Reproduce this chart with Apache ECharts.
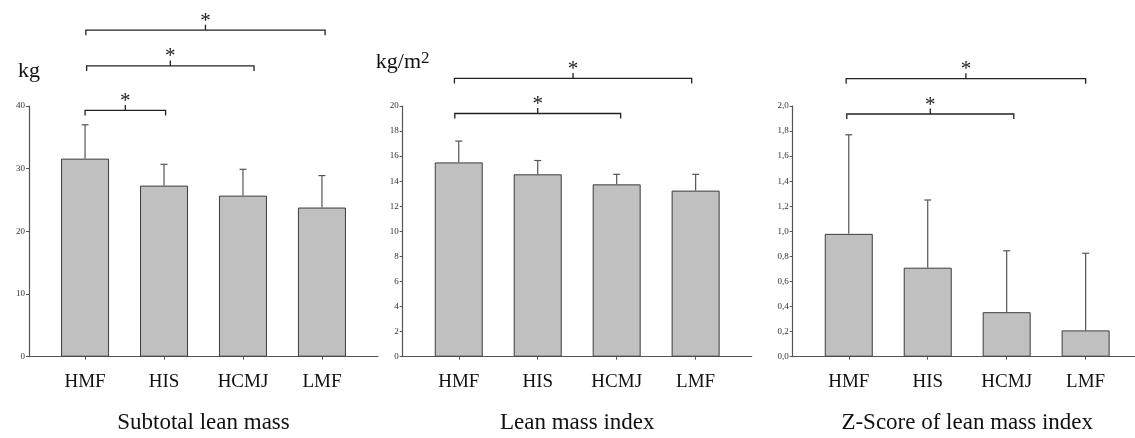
<!DOCTYPE html>
<html>
<head>
<meta charset="utf-8" />
<title>Lean mass</title>
<script src="https://cdn.jsdelivr.net/npm/echarts@6/dist/echarts.min.js"></script>
<style>
  html, body { margin: 0; padding: 0; background: #fff; }
  #main { width: 1135px; height: 438px; }
</style>
</head>
<body>
<div id="main"></div>
<script type="text/javascript">
// data
var categories = ['HMF', 'HIS', 'HCMJ', 'LMF'];

var leanMass = [31.6, 27.3, 25.7, 23.8];
var leanMassSd = [5.4, 3.4, 4.2, 5.1];

var leanIndex = [15.5, 14.55, 13.75, 13.25];
var leanIndexSd = [1.7, 1.1, 0.8, 1.3];

var zScore = [0.98, 0.71, 0.355, 0.21];
var zScoreSd = [0.79, 0.54, 0.49, 0.615];

// significance brackets: [from, to, height]
var leanMassSig = [[0, 1.02, 39.3], [0.02, 2.14, 46.4], [0.01, 3.04, 52.1]];
var leanIndexSig = [[-0.05, 2.05, 19.4], [-0.055, 2.95, 22.2]];
var zScoreSig = [[-0.025, 2.09, 1.936], [-0.033, 3.0, 2.218]];

var yTicks = [
  { max: 40, interval: 10 },
  { max: 20, interval: 2 },
  { max: 2, interval: 0.2 }
];

var serif = 'Liberation Serif';
var axisColor = '#555';
var gridLefts = [29, 402.7, 792.7];
var titles = ['Subtotal lean mass', 'Lean mass index', 'Z-Score of lean mass index'];

var chart = echarts.init(document.getElementById('main'), null, { renderer: 'canvas' });

function errorRender(params, api) {
  var i = api.value(0);
  var base = api.coord([i, api.value(1)]);
  var top = api.coord([i, api.value(1) + api.value(2)]);
  return {
    type: 'group',
    children: [
      { type: 'line', shape: { x1: base[0], y1: base[1], x2: top[0], y2: top[1] },
        style: { stroke: '#555', lineWidth: 1.2 } },
      { type: 'line', shape: { x1: top[0] - 3.5, y1: top[1], x2: top[0] + 3.5, y2: top[1] },
        style: { stroke: '#555', lineWidth: 1.2 } }
    ]
  };
}

function sigRender(params, api) {
  var a = api.coord([api.value(0), api.value(2)]);
  var b = api.coord([api.value(1), api.value(2)]);
  var mx = (a[0] + b[0]) / 2;
  var y = a[1];
  return {
    type: 'group',
    children: [
      { type: 'polyline', shape: { points: [[a[0], y + 5], [a[0], y], [b[0], y], [b[0], y + 5]] },
        style: { stroke: '#222', lineWidth: 1.3, fill: null } },
      { type: 'line', shape: { x1: mx, y1: y, x2: mx, y2: y - 5.5 },
        style: { stroke: '#222', lineWidth: 1.3 } },
      { type: 'text', x: mx, y: y + 1.5,
        style: { text: '*', fontFamily: serif, fontSize: 21, fill: '#222',
                 align: 'center', verticalAlign: 'bottom' } }
    ]
  };
}

var grids = [], xAxes = [], yAxes = [], series = [];
var means = [leanMass, leanIndex, zScore];
var sds = [leanMassSd, leanIndexSd, zScoreSd];
var sigs = [leanMassSig, leanIndexSig, zScoreSig];

for (var p = 0; p < 3; p++) {
  grids.push({ left: gridLefts[p], top: 106, width: 349, height: 250.7,
               containLabel: false, outerBoundsMode: 'none' });
  xAxes.push({
    gridIndex: p,
    type: 'value',
    min: -0.71,
    max: 3.71,
    name: titles[p],
    nameLocation: 'middle',
    nameGap: 55,
    nameTextStyle: { fontFamily: serif, fontSize: 23, color: '#111' },
    splitLine: { show: false },
    axisLine: { onZero: false, lineStyle: { color: axisColor, width: 1.2 } },
    axisTick: { customValues: [0, 1, 2, 3], length: 3, lineStyle: { color: axisColor } },
    axisLabel: {
      customValues: [0, 1, 2, 3],
      formatter: function (v) { return categories[Math.round(v)]; },
      fontFamily: serif, fontSize: 19, color: '#111', margin: 16
    }
  });
  yAxes.push({
    gridIndex: p,
    type: 'value',
    min: 0,
    max: yTicks[p].max,
    interval: yTicks[p].interval,
    splitLine: { show: false },
    axisLine: { show: true, onZero: false, lineStyle: { color: axisColor, width: 1.2 } },
    axisTick: { show: true, length: 3, lineStyle: { color: axisColor } },
    axisLabel: {
      fontFamily: serif, fontSize: 9, color: '#333', margin: 4,
      formatter: p === 2 ? function (v) { return v.toFixed(1).replace('.', ','); } : null
    }
  });

  series.push({
    type: 'bar',
    xAxisIndex: p, yAxisIndex: p,
    barWidth: 48,
    itemStyle: { color: '#c0c0c0', borderColor: '#3c3c3c', borderWidth: 1 },
    data: means[p].map(function (v, i) { return [i, v]; })
  });
  series.push({
    type: 'custom',
    xAxisIndex: p, yAxisIndex: p,
    renderItem: errorRender,
    z: 3,
    data: means[p].map(function (v, i) { return [i, v, sds[p][i]]; })
  });
  series.push({
    type: 'custom',
    xAxisIndex: p, yAxisIndex: p,
    renderItem: sigRender,
    clip: false,
    z: 4,
    data: sigs[p]
  });
}

// unit labels
yAxes[0].name = 'kg';
yAxes[0].nameGap = 24;
yAxes[0].nameTextStyle = { fontFamily: serif, fontSize: 22, color: '#111', align: 'center' };
yAxes[1].name = '{a|kg/m}{b|2}';
yAxes[1].nameGap = 31;
yAxes[1].nameTextStyle = {
  align: 'center',
  rich: {
    a: { fontFamily: serif, fontSize: 22, color: '#111' },
    b: { fontFamily: serif, fontSize: 17, color: '#111', padding: [0, 0, 8, 0] }
  }
};

var option = {
  animation: false,
  backgroundColor: '#fff',
  grid: grids,
  xAxis: xAxes,
  yAxis: yAxes,
  series: series
};

chart.setOption(option);
</script>
</body>
</html>
